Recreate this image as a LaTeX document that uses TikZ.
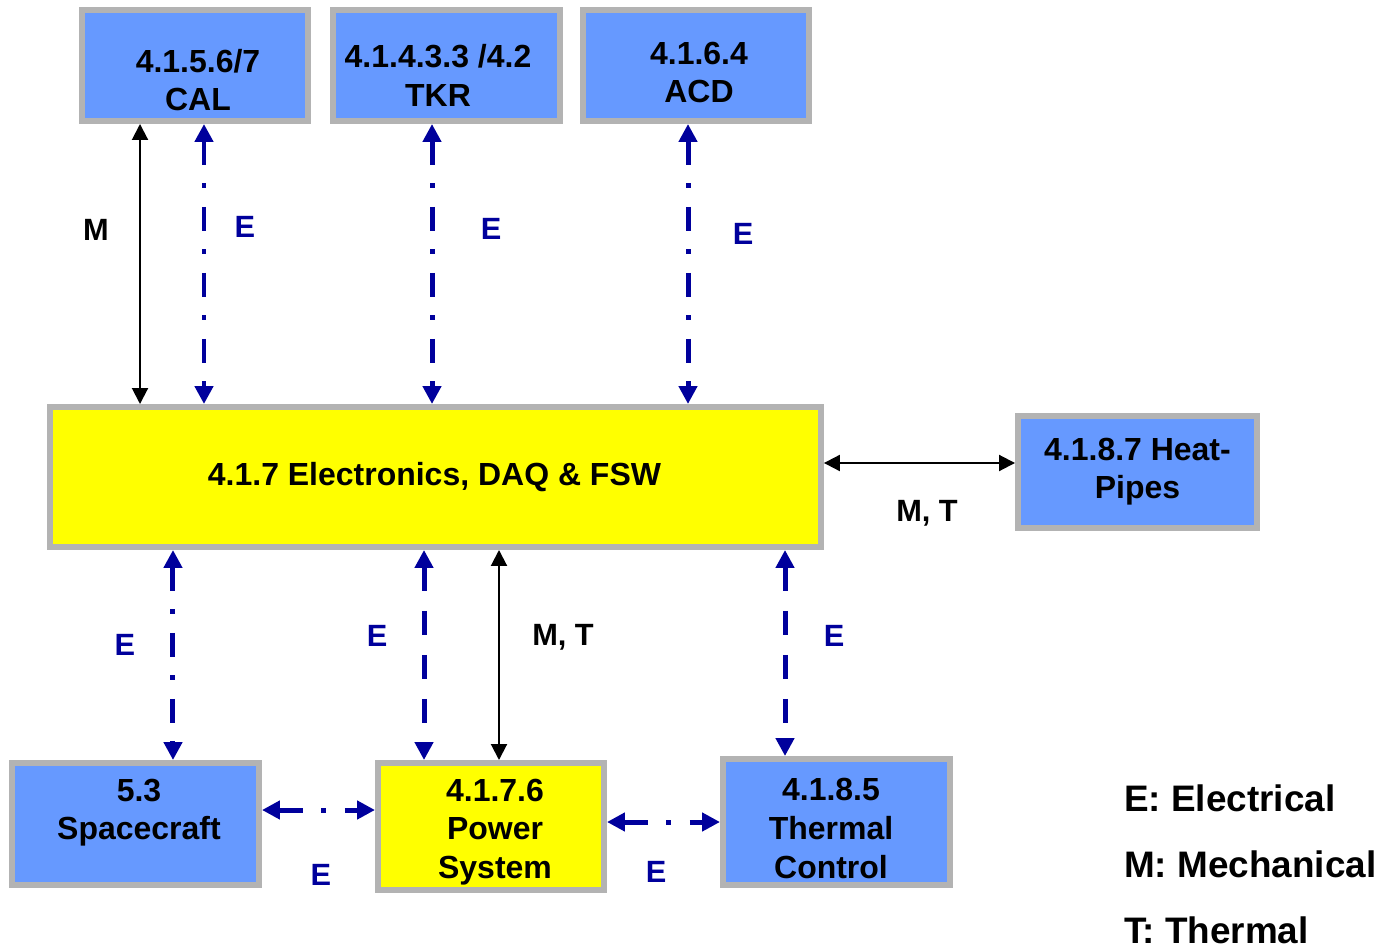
\documentclass[tikz,border=0pt]{standalone}
\usepackage{fontspec}
\setmainfont{Liberation Sans}
\usetikzlibrary{arrows.meta}

\definecolor{boxblue}{HTML}{6699FF}
\definecolor{boxgray}{HTML}{B3B3B3}
\definecolor{boxyellow}{HTML}{FFFF00}
\definecolor{linkblue}{HTML}{00009C}

\begin{document}
\begin{tikzpicture}[
    x=0.02cm, y=-0.02cm,
    box/.style={
        rectangle,
        draw=boxgray,
        line width=0.12cm,
        inner sep=0pt
    },
    bluebox/.style={
        box,
        fill=boxblue
    },
    yellowbox/.style={
        box,
        fill=boxyellow
    },
    boxtext/.style={
        align=center,
        font=\fontsize{18.2}{22}\selectfont\bfseries
    },
    elabel/.style={
        text=linkblue,
        font=\fontsize{17.5}{20}\selectfont\bfseries
    },
    mlabel/.style={
        font=\fontsize{17.5}{20}\selectfont\bfseries
    },
    legend/.style={
        anchor=west,
        font=\fontsize{21}{24}\selectfont\bfseries
    },
    elink/.style={
        draw=linkblue,
        line width=0.1cm,
        {Triangle[length=0.36cm, width=0.36cm]}-{Triangle[length=0.36cm, width=0.36cm]},
        dash pattern=on 0.48cm off 0.37cm on 0.1cm off 0.37cm
    },
    edashed/.style={
        elink,
        dash pattern=on 0.48cm off 0.4cm
    },
    mlink/.style={
        draw=black,
        line width=0.04cm,
        {Triangle[length=0.32cm, width=0.32cm]}-{Triangle[length=0.32cm, width=0.32cm]}
    }
]
\useasboundingbox (0,0) rectangle (1383,949);

% Top subsystems
\node[bluebox, minimum width=4.52cm, minimum height=2.22cm] (cal) at (195,65.5) {};
\node[bluebox, minimum width=4.54cm, minimum height=2.22cm] (tkr) at (446.5,65.5) {};
\node[bluebox, minimum width=4.52cm, minimum height=2.22cm] (acd) at (696,65.5) {};

% Electronics
\node[yellowbox, minimum width=15.42cm, minimum height=2.8cm] (elec) at (435.5,477) {};
\node[bluebox, minimum width=4.78cm, minimum height=2.24cm] (heat) at (1137.5,472) {};

% Bottom row
\node[bluebox, minimum width=4.94cm, minimum height=2.44cm] (sc) at (135.5,824) {};
\node[yellowbox, minimum width=4.52cm, minimum height=2.54cm] (pwr) at (491,826.5) {};
\node[bluebox, minimum width=4.54cm, minimum height=2.52cm] (thc) at (836.5,822) {};

% Box texts
\node[boxtext] (calt) at (198,80) {4.1.5.6/7\\CAL};
\node[boxtext] (tkrt) at (438,75.5) {4.1.4.3.3 /4.2\\TKR};
\node[boxtext] (acdt) at (699,72.5) {4.1.6.4\\ACD};
\node[boxtext] (elect) at (434.5,477) {4.1.7 Electronics, DAQ \& FSW};
\node[boxtext] (heatt) at (1137.5,471.5) {4.1.8.7 Heat-\\Pipes};
\node[boxtext] (sct) at (139,812.5) {5.3\\Spacecraft};
\node[boxtext] (pwrt) at (495,832) {4.1.7.6\\Power\\System};
\node[boxtext] (thct) at (831,828.5) {4.1.8.5\\Thermal\\Control};

% Links to the top
\draw[mlink] ([xshift=-1.1cm]cal.south) -- ([xshift=-1.1cm]cal.south |- elec.north);
\draw[elink] ([xshift=0.18cm]cal.south) -- ([xshift=0.18cm]cal.south |- elec.north);
\draw[elink] ([xshift=-0.29cm]tkr.south) -- ([xshift=-0.29cm]tkr.south |- elec.north);
\draw[elink] ([xshift=-0.16cm]acd.south) -- ([xshift=-0.16cm]acd.south |- elec.north);

% Heat pipes
\draw[mlink] ([yshift=0.28cm]elec.east) -- ([yshift=0.28cm]elec.east -| heat.west);

% Links to the bottom
\draw[elink] ([xshift=0.75cm]sc.north |- elec.south) -- ([xshift=0.75cm]sc.north);
\draw[edashed] ([xshift=-1.34cm]pwr.north |- elec.south) -- ([xshift=-1.34cm]pwr.north);
\draw[mlink] ([xshift=0.16cm]pwr.north |- elec.south) -- ([xshift=0.16cm]pwr.north);
\draw[edashed] ([xshift=-1.03cm]thc.north |- elec.south) -- ([xshift=-1.03cm]thc.north);

% Bottom row links
\draw[elink] ([yshift=0.28cm]sc.east) -- ([yshift=0.28cm]sc.east -| pwr.west);
\draw[elink] ([yshift=0.09cm]pwr.east) -- ([yshift=0.09cm]pwr.east -| thc.west);

% Labels
\node[mlabel] (lm1) at (96,230) {M};
\node[elabel] (le1) at (245,227) {E};
\node[elabel] (le2) at (491,229) {E};
\node[elabel] (le3) at (743,234) {E};
\node[mlabel] (lmt1) at (927,513) {M, T};
\node[elabel] (le4) at (125,645) {E};
\node[elabel] (le5) at (377,636) {E};
\node[mlabel] (lmt2) at (563,637) {M, T};
\node[elabel] (le6) at (834,636) {E};
\node[elabel] (le7) at (321,875) {E};
\node[elabel] (le8) at (656,872) {E};

% Legend
\node[legend] (lgE) at (1118,798) {E: Electrical};
\node[legend] (lgM) at (1118,864) {M: Mechanical};
\node[legend] (lgT) at (1118,930) {T: Thermal};

\end{tikzpicture}
\end{document}
